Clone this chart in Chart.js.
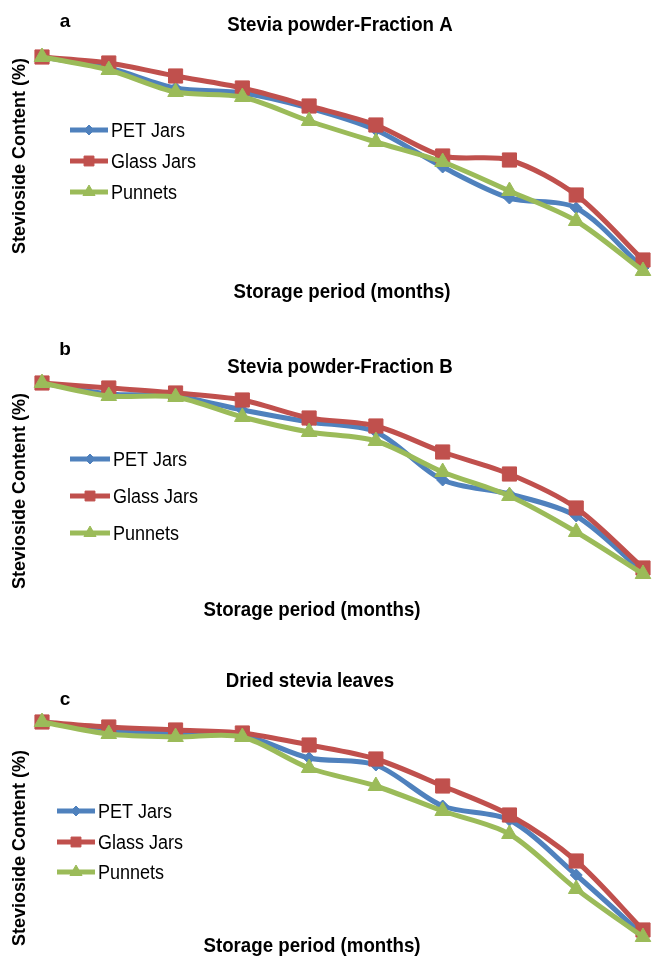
<!DOCTYPE html>
<html>
<head>
<meta charset="utf-8">
<script src="https://cdn.jsdelivr.net/npm/chart.js@4.4.1/dist/chart.umd.min.js"></script>
<style>
    body{margin:0;background:#ffffff;width:656px;height:956px;position:relative;overflow:hidden}
    canvas{position:absolute;left:0}
</style>
</head>
<body>
<canvas id="chartA" width="656" height="310" style="top:0px"></canvas>
<canvas id="chartB" width="656" height="310" style="top:320px"></canvas>
<canvas id="chartC" width="656" height="316" style="top:640px"></canvas>
<script>
// storage months (no tick labels shown in the figure)
const months = ['0', '1', '2', '3', '4', '5', '6', '7', '8', '9'];

const seriesNames = ['PET Jars', 'Glass Jars', 'Punnets'];

// relative stevioside content (start = 100)
const petA = [100, 97.8, 93.8, 92.8, 89.8, 85.4, 78.0, 71.8, 69.8, 57.8];
const glassA = [100, 98.8, 96.2, 93.8, 90.2, 86.4, 80.2, 79.4, 72.4, 59.4];
const punnetsA = [100, 97.4, 93.0, 92.0, 87.2, 83.0, 79.0, 73.2, 67.2, 57.2];

const petB = [100, 97.8, 97.4, 94.6, 92.2, 90.2, 80.6, 77.8, 73.4, 62.2];
const glassB = [100, 99.0, 98.0, 96.6, 93.0, 91.4, 86.2, 81.8, 75.0, 63.0];
const punnetsB = [100, 97.4, 97.2, 93.2, 90.2, 88.4, 82.2, 77.4, 70.2, 61.8];

const petC = [100, 98.4, 97.8, 97.4, 92.8, 91.4, 83.2, 80.4, 69.4, 57.4];
const glassC = [100, 99.0, 98.4, 97.8, 95.4, 92.6, 87.2, 81.4, 72.2, 58.4];
const punnetsC = [100, 97.6, 97.0, 97.0, 90.8, 87.2, 82.2, 77.6, 66.6, 57.0];

const colors = ['#4F81BD', '#C0504D', '#9BBB59'];
const styles = ['rectRot', 'rect', 'triangle'];
const radii = [6, 10, 9];
const legendRadii = [5, 7, 7];

// condensed bold text, like the narrow font of the figure
function narrowText(ctx, text, x, y, size){
    ctx.save();
    ctx.translate(x, y);
    ctx.scale(0.89, 1);
    ctx.font = 'bold ' + size + 'px "Liberation Sans"';
    ctx.fillText(text, 0, 0);
    ctx.restore();
}

// draws panel letter, titles and the legend inside the plot
const panelText = {
    id: 'panelText',
    afterDatasetsDraw(chart, args, o) {
        const ctx = chart.ctx;
        ctx.save();
        ctx.fillStyle = '#000000';
        ctx.textAlign = 'center';
        ctx.textBaseline = 'middle';

        ctx.font = 'bold 19px "Liberation Sans"';
        ctx.fillText(o.letter, o.letterX, o.letterY);

        narrowText(ctx, o.title, o.titleX, o.titleY, 21);
        narrowText(ctx, 'Storage period (months)', o.xTitleX, o.xTitleY, 21);

        ctx.save();
        ctx.translate(o.yTitleX, o.yTitleY);
        ctx.rotate(-Math.PI / 2);
        ctx.font = 'bold 18px "Liberation Sans"';
        ctx.fillText('Stevioside Content (%)', 0, 0);
        ctx.restore();

        chart.data.datasets.forEach((ds, i) => {
            const y = o.legendRows[i];
            ctx.strokeStyle = ds.borderColor;
            ctx.lineWidth = ds.borderWidth;
            ctx.beginPath();
            ctx.moveTo(o.legendX, y);
            ctx.lineTo(o.legendX + o.legendLen, y);
            ctx.stroke();

            ctx.fillStyle = ds.pointBackgroundColor;
            ctx.strokeStyle = ds.pointBorderColor;
            ctx.lineWidth = 1;
            Chart.helpers.drawPoint(ctx, {
                pointStyle: ds.pointStyle,
                radius: legendRadii[i],
                borderWidth: 1,
                rotation: 0
            }, o.legendX + o.legendLen / 2, y);

            ctx.fillStyle = '#000000';
            ctx.textAlign = 'left';
            ctx.save();
            ctx.translate(o.legendX + o.legendLen + 3, y + 1);
            ctx.scale(0.9, 1);
            ctx.font = '20px "Liberation Sans"';
            ctx.fillText(ds.label, 0, 0);
            ctx.restore();
        });

        ctx.restore();
    }
};

function makeDatasets(values){
    return values.map((v, i) => ({
        label: seriesNames[i],
        data: v,
        borderColor: colors[i],
        backgroundColor: colors[i],
        pointBackgroundColor: colors[i],
        pointBorderColor: colors[i],
        borderWidth: 5,
        pointStyle: styles[i],
        pointRadius: radii[i],
        pointBorderWidth: 1,
        tension: 0.3,
        clip: false,
        order: 3 - i
    }));
}

function makeChart(id, values, padding, text){
    const all = [].concat(...values);

    return new Chart(document.getElementById(id), {
        type: 'line',

        data: {
            labels: months,
            datasets: makeDatasets(values)
        },

        options: {
            responsive: false,
            animation: false,
            layout: {
                padding: padding
            },
            plugins: {
                legend: { display: false },
                title: { display: false },
                tooltip: { enabled: false },
                panelText: text
            },
            scales: {
                x: {
                    display: false,
                    offset: false
                },
                y: {
                    display: false,
                    min: Math.min(...all),
                    max: Math.max(...all)
                }
            }
        },

        plugins: [panelText]
    });
}

makeChart('chartA', [petA, glassA, punnetsA],
    { left: 42, right: 13, top: 57, bottom: 39 },
    {
        letter: 'a', letterX: 65, letterY: 22,
        title: 'Stevia powder-Fraction A', titleX: 340, titleY: 25,
        xTitleX: 342, xTitleY: 292,
        yTitleX: 20, yTitleY: 156,
        legendX: 70, legendLen: 38, legendRows: [130, 161, 192]
    });

makeChart('chartB', [petB, glassB, punnetsB],
    { left: 42, right: 13, top: 63, bottom: 56 },
    {
        letter: 'b', letterX: 65, letterY: 30,
        title: 'Stevia powder-Fraction B', titleX: 340, titleY: 47,
        xTitleX: 312, xTitleY: 290,
        yTitleX: 20, yTitleY: 171,
        legendX: 70, legendLen: 40, legendRows: [139, 176, 213]
    });

makeChart('chartC', [petC, glassC, punnetsC],
    { left: 42, right: 13, top: 82, bottom: 19 },
    {
        letter: 'c', letterX: 65, letterY: 60,
        title: 'Dried stevia leaves', titleX: 310, titleY: 41,
        xTitleX: 312, xTitleY: 306,
        yTitleX: 20, yTitleY: 208,
        legendX: 57, legendLen: 38, legendRows: [171, 202, 232]
    });
</script>
</body>
</html>
